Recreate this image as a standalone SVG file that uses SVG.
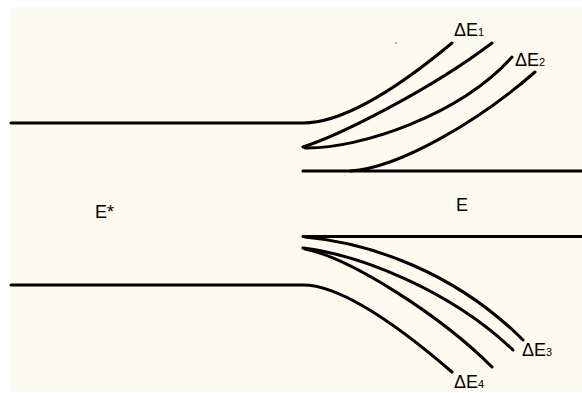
<svg xmlns="http://www.w3.org/2000/svg" width="582" height="393" viewBox="0 0 582 393">
<style>
.ln{fill:none;stroke:#000;stroke-width:3;stroke-linecap:round}
.t{font-family:"Liberation Sans",Arial,sans-serif;font-size:18px;fill:#000}
.s{font-size:11px}
</style>
<rect x="0" y="0" width="582" height="393" fill="#fff"/>
<rect x="11" y="7" width="571" height="385" fill="#fdfaf0"/>
<circle cx="396" cy="43" r="0.8" fill="#555"/>
<g id="connectors">
<path class="ln" d="M11,123 H303 Q356,123 452,43"/>
<path class="ln" d="M303,147 C340,135 430,90 492,43"/>
<path class="ln" d="M305,148 C360,149 460,115 512,57"/>
<path class="ln" d="M303,171 H582"/>
<path class="ln" d="M350,171 C400,168 480,120 535,72"/>
<path class="ln" d="M303,236.5 H582"/>
<path class="ln" d="M305,237 C370,243 455,272 523,340"/>
<path class="ln" d="M303,248 C360,255 450,290 513,350"/>
<path class="ln" d="M305,249 C350,258 440,315 492,367"/>
<path class="ln" d="M11,285 H303 Q351,285 452,372"/>
</g>
<g id="E-star"><text class="t" x="95" y="218" font-size="18">E*</text></g>
<g id="E"><text class="t" x="456" y="211" font-size="20">E</text></g>
<g id="dE1"><text class="t" x="454" y="36">ΔE<tspan class="s">1</tspan></text></g>
<g id="dE2"><text class="t" x="515" y="66">ΔE<tspan class="s">2</tspan></text></g>
<g id="dE3"><text class="t" x="522" y="356">ΔE<tspan class="s">3</tspan></text></g>
<g id="dE4"><text class="t" x="454" y="388">ΔE<tspan class="s">4</tspan></text></g>
</svg>
